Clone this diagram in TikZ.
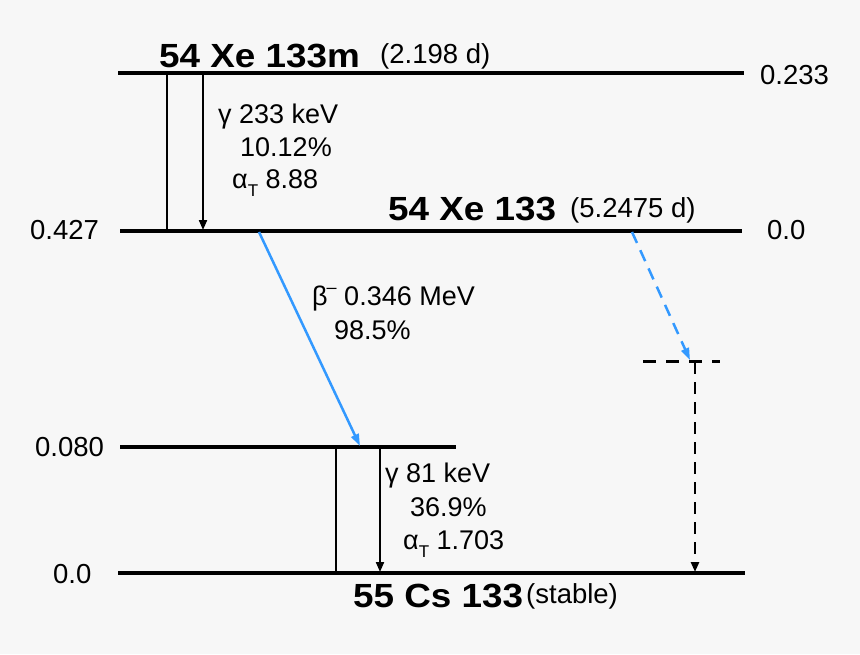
\documentclass[tikz,border=0pt]{standalone}
\usepackage{fontspec}
\setmainfont{Liberation Sans}
\usetikzlibrary{arrows.meta}
\definecolor{bg}{HTML}{F7F7F7}
\definecolor{betablue}{HTML}{3399FF}
\newcommand{\sidefont}{\fontsize{27.5}{30}\selectfont}
\newcommand{\inner}{\fontsize{27}{30}\selectfont}
\newcommand{\halflife}{\fontsize{27.5}{30}\selectfont}
\newcommand{\boldlab}[1]{\scalebox{1.1}[1]{\fontsize{33.5}{36}\selectfont\bfseries #1}}
\newcommand{\alT}{α\raisebox{-0.3em}{\fontsize{17}{20}\selectfont T}}
\begin{document}
\begin{tikzpicture}[x=1pt,y=-1pt,
  level/.style={line width=3.3pt},
  thinline/.style={line width=1.2pt},
  gammaarrow/.style={line width=2pt,-{Triangle[length=10pt,width=8pt]}},
  betaarrow/.style={line width=2.5pt,color=betablue,-{Triangle[length=12pt,width=8pt]}},
  dashlevel/.style={line width=3pt,dash pattern=on 13pt off 10pt},
  dasharrow/.style={line width=2.5pt,dash pattern=on 12pt off 8pt,-{Triangle[length=10pt,width=8pt]}},
  lab/.style={inner sep=0pt,anchor=base west},
]
\fill[bg] (0,0) rectangle (860,654);
\useasboundingbox (0,0) rectangle (860,654);

% level end points
\coordinate (l1a) at (118,73);   \coordinate (l1b) at (744,73);
\coordinate (l2a) at (120,231);  \coordinate (l2b) at (742,231);
\coordinate (l3a) at (120,447);  \coordinate (l3b) at (456,447);
\coordinate (l4a) at (118,573);  \coordinate (l4b) at (745,573);
\coordinate (l5a) at (643,361);  \coordinate (l5b) at (720,361);

\draw[level] (l1a) -- (l1b);
\draw[level] (l2a) -- (l2b);
\draw[level] (l3a) -- (l3b);
\draw[level] (l4a) -- (l4b);
\draw[dashlevel] (l5a) -- (l5b);

% transitions
\coordinate (t1a) at (167,73);  \coordinate (t1b) at (167,231);
\coordinate (g1a) at (203,73);  \coordinate (g1b) at (203,230);
\coordinate (b1a) at (259,232); \coordinate (b1b) at (360,446);
\coordinate (b2a) at (632,232); \coordinate (b2b) at (690,360);
\coordinate (d1a) at (695,362); \coordinate (d1b) at (695,572);
\coordinate (t2a) at (336,447); \coordinate (t2b) at (336,573);
\coordinate (g2a) at (380,447); \coordinate (g2b) at (380,572);

\draw[thinline] (t1a) -- (t1b);
\draw[gammaarrow] (g1a) -- (g1b);
\draw[betaarrow] (b1a) -- (b1b);
\draw[betaarrow,dash pattern=on 12pt off 8pt] (b2a) -- (b2b);
\draw[dasharrow] (d1a) -- (d1b);
\draw[thinline] (t2a) -- (t2b);
\draw[gammaarrow] (g2a) -- (g2b);

% labels
\node[lab] (n1) at (159,67) {\boldlab{54 Xe 133m}};
\node[lab] (h1) at (380,63) {\halflife(2.198 d)};
\node[lab] (e1) at (760,84) {\sidefont 0.233};
\node[lab] (gl1) at (218,123) {\inner γ 233 keV};
\node[lab] (gl2) at (240,156) {\inner 10.12\%};
\node[lab] (gl3) at (232,188) {\inner\alT{} 8.88};
\node[lab] (e2) at (30,239) {\sidefont 0.427};
\node[lab] (e3) at (767,239) {\sidefont 0.0};
\node[lab] (n2) at (388,220) {\boldlab{54 Xe 133}};
\node[lab] (h2) at (570,217) {\halflife(5.2475 d)};
\node[lab] (bl1) at (312,305) {\inner β\kern-1pt\raisebox{0.42em}{\fontsize{18}{20}\selectfont –} 0.346 MeV};
\node[lab] (bl2) at (334,339) {\inner 98.5\%};
\node[lab] (e4) at (35,456) {\sidefont 0.080};
\node[lab] (gl4) at (385,482) {\inner γ 81 keV};
\node[lab] (gl5) at (410,516) {\inner 36.9\%};
\node[lab] (gl6) at (403,549) {\inner\alT{} 1.703};
\node[lab] (e5) at (53,583) {\sidefont 0.0};
\node[lab] (n3) at (353,607) {\boldlab{55 Cs 133}};
\node[lab] (h3) at (526,603) {\halflife(stable)};
\end{tikzpicture}
\end{document}
